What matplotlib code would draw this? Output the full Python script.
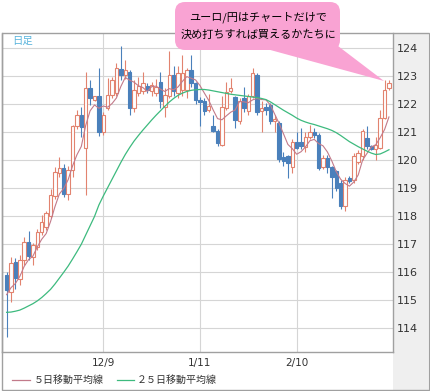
import matplotlib
matplotlib.use("Agg")
import matplotlib.pyplot as plt
from matplotlib.patches import Rectangle, FancyBboxPatch, Polygon
from matplotlib.lines import Line2D
from matplotlib.transforms import IdentityTransform

plt.rcParams['font.family'] = ['Noto Sans CJK JP', 'DejaVu Sans']

# daily candles (EUR/JPY)
opens = [115.9, 115.3, 116.37, 115.76, 116.44, 117.09, 116.56, 116.91, 117.45, 117.6,
         118.0, 118.72, 119.55, 119.72, 118.78, 119.65, 121.2, 121.62, 120.43, 122.57,
         122.15, 122.27, 121.0, 121.86, 122.33, 122.4, 123.25, 123.05, 123.13, 121.86,
         122.4, 122.45, 122.63, 122.45, 122.4, 122.8, 121.9, 122.27, 123.05, 122.4,
         122.5, 122.5, 123.22, 122.75, 122.15, 122.1, 121.8, 121.2, 121.05, 120.55,
         121.86, 122.47, 122.25, 121.4, 122.2, 121.74, 122.27, 123.05, 121.75, 121.9,
         121.95, 121.38, 121.32, 120.1, 120.15, 119.77, 120.66, 120.66, 120.48, 120.84,
         121.02, 120.9, 119.77, 120.07, 119.75, 119.6, 119.2, 118.38, 119.35, 119.3,
         119.95, 120.15, 120.78, 120.5, 120.4, 120.45, 121.5, 122.57]
highs = [116.0, 116.55, 116.5, 116.6, 117.25, 117.47, 117.05, 117.55, 118.05, 118.2,
         118.96, 119.75, 120.12, 119.85, 119.8, 121.25, 121.8, 121.9, 123.16, 122.87,
         122.3, 123.29, 121.7, 122.93, 122.95, 123.45, 124.08, 123.58, 123.2, 122.85,
         122.95, 123.16, 122.75, 122.8, 122.9, 123.15, 122.57, 123.88, 123.34, 123.35,
         123.76, 123.3, 123.76, 122.8, 122.25, 122.2, 122.35, 121.6, 121.1, 122.27,
         122.8, 122.93, 122.3, 122.2, 122.6, 122.35, 123.29, 123.1, 122.1, 122.05,
         122.05, 121.62, 121.4, 120.3, 120.2, 120.75, 121.0, 121.14, 121.0, 121.26,
         121.14, 120.95, 120.2, 120.2, 119.8, 119.65, 119.3, 119.4, 119.45, 120.25,
         120.35, 121.1, 121.2, 120.55, 120.84, 121.8, 122.87, 122.87]
lows = [113.7, 114.95, 115.4, 115.55, 116.26, 116.44, 116.25, 116.8, 117.33, 117.5,
        117.95, 118.6, 119.4, 118.7, 118.58, 119.4, 121.1, 120.84, 118.76, 121.98,
        122.1, 120.85, 120.9, 121.8, 122.2, 122.3, 122.85, 122.9, 121.6, 121.7,
        122.3, 122.35, 122.4, 122.3, 122.3, 121.86, 121.53, 122.2, 122.3, 122.2,
        122.3, 122.2, 122.6, 122.0, 121.2, 121.6, 121.7, 121.0, 120.5, 120.5,
        121.8, 122.4, 121.14, 121.3, 121.7, 121.6, 122.2, 121.6, 121.0, 121.6,
        121.3, 121.0, 119.95, 119.8, 119.35, 119.53, 120.4, 120.4, 120.3, 120.75,
        120.8, 119.65, 119.7, 119.55, 118.64, 118.9, 118.25, 118.2, 119.2, 119.2,
        119.85, 120.0, 120.4, 120.35, 120.0, 120.4, 121.45, 122.5]
closes = [115.37, 116.34, 115.8, 116.44, 117.09, 116.58, 116.97, 117.45, 117.81, 118.1,
          118.74, 119.59, 119.72, 118.78, 119.65, 121.2, 121.62, 121.18, 122.57, 122.21,
          122.27, 121.02, 121.6, 122.33, 122.87, 123.29, 123.05, 123.2, 121.86, 122.5,
          122.63, 122.75, 122.51, 122.69, 122.6, 122.1, 122.33, 123.05, 122.45, 123.1,
          123.1, 123.22, 122.75, 122.15, 122.08, 121.75, 121.92, 121.05, 120.6, 121.9,
          122.43, 122.57, 121.44, 122.1, 121.85, 122.27, 123.1, 121.7, 121.86, 121.8,
          121.4, 121.45, 120.05, 119.98, 119.9, 120.66, 120.45, 120.5, 120.84, 121.02,
          120.9, 119.71, 120.07, 119.77, 119.4, 119.0, 118.38, 119.3, 119.25, 120.15,
          120.25, 121.05, 120.49, 120.4, 120.55, 121.5, 122.5, 122.75]

ma5 = [115.2, 115.45, 115.6, 115.85, 116.21, 116.45, 116.58, 116.91, 117.18, 117.38,
       117.81, 118.34, 118.79, 118.99, 119.3, 119.79, 120.19, 120.49, 121.24, 121.76,
       121.97, 121.85, 121.93, 121.89, 122.02, 122.22, 122.63, 122.95, 122.85, 122.78,
       122.65, 122.59, 122.45, 122.62, 122.64, 122.53, 122.45, 122.55, 122.51, 122.61,
       122.81, 122.98, 122.92, 122.86, 122.66, 122.39, 122.13, 121.79, 121.48, 121.44,
       121.58, 121.71, 121.79, 122.09, 122.08, 122.05, 122.15, 122.2, 122.16, 122.15,
       121.97, 121.64, 121.31, 120.94, 120.56, 120.41, 120.21, 120.3, 120.47, 120.69,
       120.74, 120.59, 120.51, 120.29, 119.97, 119.59, 119.32, 119.17, 119.07, 119.22,
       119.47, 120.0, 120.24, 120.47, 120.55, 120.8, 121.09, 121.54]
ma25 = [114.57, 114.58, 114.61, 114.65, 114.72, 114.8, 114.88, 114.98, 115.1, 115.24,
        115.39, 115.58, 115.79, 116.0, 116.22, 116.47, 116.73, 117.0, 117.33, 117.66,
        117.99, 118.4, 118.72, 119.02, 119.32, 119.62, 119.92, 120.2, 120.45, 120.68,
        120.88, 121.07, 121.25, 121.43, 121.6, 121.76, 121.92, 122.07, 122.2, 122.31,
        122.39, 122.45, 122.49, 122.51, 122.52, 122.52, 122.5, 122.47, 122.44, 122.41,
        122.38, 122.35, 122.33, 122.31, 122.29, 122.27, 122.25, 122.23, 122.2, 122.16,
        122.08, 121.98, 121.88, 121.78, 121.69, 121.6, 121.5, 121.42, 121.36, 121.31,
        121.27, 121.22, 121.17, 121.12, 121.06, 120.98, 120.88, 120.77, 120.66, 120.57,
        120.48, 120.4, 120.32, 120.25, 120.2, 120.22, 120.29, 120.37]

y_ticks = [114, 115, 116, 117, 118, 119, 120, 121, 122, 123, 124]
date_pos = [22, 44, 66]
date_labels = ["12/9", "1/11", "2/10"]

UP = "#e2836f"
DOWN = "#4a80bb"
MA5_C = "#c27a8a"
MA25_C = "#3dba7e"

W, H = 431, 391
px = IdentityTransform()


def fx(x):
    return x / W


def fy(y):
    return 1 - y / H


fig = plt.figure(figsize=(W / 100, H / 100), dpi=100)
fig.patch.set_facecolor("white")

# grey column behind the price labels
fig.add_artist(Rectangle((393, 1), 35, 357, transform=px, facecolor="#efefef",
                         edgecolor="none", zorder=0))

ax = fig.add_axes([fx(2), (H - 352) / H, 391 / W, 319 / H])
ax.set_facecolor("white")

idx = list(range(len(closes)))
colors = [UP if c >= o else DOWN for o, c in zip(opens, closes)]
faces = ["white" if c >= o else DOWN for o, c in zip(opens, closes)]
ax.vlines(idx, lows, highs, colors=colors, lw=0.8, zorder=2)
ax.bar(idx, [abs(c - o) for o, c in zip(opens, closes)],
       bottom=[min(o, c) for o, c in zip(opens, closes)],
       width=0.78, facecolor=faces, edgecolor=colors, lw=0.8, zorder=3)

ax.plot(idx, ma5, color=MA5_C, lw=0.8, zorder=4)
ax.plot(idx, ma25, color=MA25_C, lw=0.9, zorder=4)

ax.set_xlim(-1.05, 87.92)
ax.set_ylim(113.155, 124.535)
ax.set_yticks(y_ticks)
ax.yaxis.tick_right()
ax.tick_params(axis="y", length=0, pad=3, labelsize=8, labelcolor="#333333")
ax.set_xticks(date_pos, date_labels)
ax.tick_params(axis="x", length=0, pad=4, labelsize=7.5, labelcolor="#333333")
for lab in ax.get_xticklabels() + ax.get_yticklabels():
    lab.set_fontfamily("DejaVu Sans")
ax.grid(color="#d5d5d5", lw=0.8)
ax.set_axisbelow(True)
ax.spines["top"].set_visible(False)
for s in ["left", "bottom", "right"]:
    ax.spines[s].set_color("#a0a0a0")
    ax.spines[s].set_linewidth(1)

# outer frame
fig.add_artist(Rectangle((1.5, 1), 427, 357, transform=px, fill=False,
                         edgecolor="#a0a0a0", lw=1, zorder=5))

fig.text(fx(12), fy(41), "日足", color="#5ab4dc", fontsize=7.5, va="center")

# legend
fig.add_artist(Line2D([fx(12), fx(30)], [fy(380), fy(380)], color=MA5_C, lw=0.9))
fig.text(fx(34), fy(380), "５日移動平均線", fontsize=7.2, va="center", color="#333333")
fig.add_artist(Line2D([fx(117), fx(134)], [fy(380), fy(380)], color=MA25_C, lw=0.9))
fig.text(fx(137), fy(380), "２５日移動平均線", fontsize=7.2, va="center", color="#333333")

# pink callout
pink = "#f9a3d3"
fig.add_artist(FancyBboxPatch((175, H - 50), 165, 48, boxstyle="round,pad=0,rounding_size=10",
                              transform=px, facecolor=pink, edgecolor="none", zorder=10))
fig.add_artist(Polygon([(263, H - 48), (338, H - 46), (384, H - 81)], closed=True,
                       transform=px, facecolor=pink, edgecolor="none", zorder=10))
fig.text(fx(258), fy(17), "ユーロ/円はチャートだけで", ha="center", va="center",
         fontsize=8, zorder=11)
fig.text(fx(258), fy(35), "決め打ちすれば買えるかたちに", ha="center", va="center",
         fontsize=8, zorder=11)

fig.savefig("out.png", dpi=100)
